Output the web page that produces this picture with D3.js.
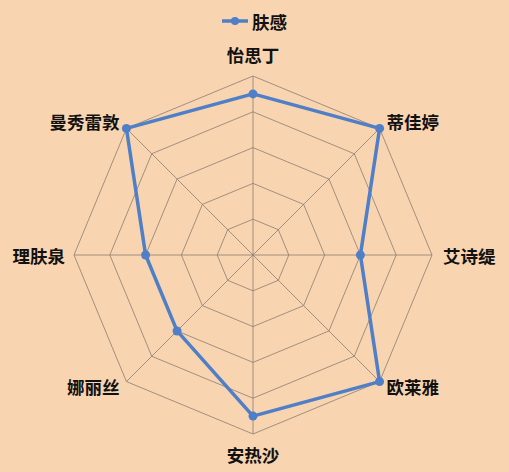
<!DOCTYPE html>
<html>
<head>
<meta charset="utf-8">
<script src="https://cdn.jsdelivr.net/npm/d3@7"></script>
<style>
  html, body { margin: 0; padding: 0; background: #f9d4b0; }
  svg { display: block; }
  text { font-family: "Noto Sans CJK SC", "Noto Sans", sans-serif; font-weight: bold; fill: #111; }
</style>
</head>
<body>
<svg id="chart"></svg>
<script>
// data
const brands = ['怡思丁', '蒂佳婷', '艾诗缇', '欧莱雅', '安热沙', '娜丽丝', '理肤泉', '曼秀雷敦'];
const skinFeel = [4.5, 5, 3, 5, 4.5, 3, 3, 5];
const seriesName = '肤感';
const levels = [1, 2, 3, 4, 5];

const width = 509, height = 472;
const cx = 253, cy = 255;
const radius = 179;
const lineColor = '#4f7fc6';

const svg = d3.select('#chart')
  .attr('width', width)
  .attr('height', height);

const rScale = d3.scaleLinear()
  .domain([0, d3.max(levels)])
  .range([0, radius]);

const angle = d3.scalePoint()
  .domain(brands)
  .range([0, 2 * Math.PI * (brands.length - 1) / brands.length]);

const chart = svg.append('g')
  .attr('transform', `translate(${cx},${cy})`);

const pt = (name, v) => {
  const a = angle(name);
  return [rScale(v) * Math.sin(a), -rScale(v) * Math.cos(a)];
};

// rings
chart.selectAll('.ring')
  .data(levels).enter()
  .append('polygon')
  .attr('class', 'ring')
  .attr('points', lv => brands.map(b => pt(b, lv).join(',')).join(' '))
  .attr('fill', 'none')
  .attr('stroke', '#8a7e72')
  .attr('stroke-width', 0.8);

// spokes
chart.selectAll('.spoke')
  .data(brands).enter()
  .append('line')
  .attr('class', 'spoke')
  .attr('x1', 0).attr('y1', 0)
  .attr('x2', b => pt(b, d3.max(levels))[0])
  .attr('y2', b => pt(b, d3.max(levels))[1])
  .attr('stroke', '#8a7e72')
  .attr('stroke-width', 0.8);

// axis labels
chart.selectAll('.label')
  .data(brands).enter()
  .append('text')
  .attr('class', 'label')
  .attr('font-size', 17.5)
  .attr('dominant-baseline', 'central')
  .attr('text-anchor', b => {
    const s = Math.sin(angle(b));
    return Math.abs(s) < 0.01 ? 'middle' : (s > 0 ? 'start' : 'end');
  })
  .attr('x', b => {
    const [x] = pt(b, d3.max(levels));
    const s = Math.sin(angle(b));
    return Math.abs(s) < 0.01 ? x : x + (s > 0 ? (Math.abs(s) > 0.99 ? 11 : 7) : (Math.abs(s) > 0.99 ? -9 : -7));
  })
  .attr('y', b => {
    const [, y] = pt(b, d3.max(levels));
    const c = Math.cos(angle(b));
    if (Math.abs(c) > 0.99) return y + (c > 0 ? -22 : 20);
    if (Math.abs(c) < 0.01) return y;
    return y + (c > 0 ? -7 : 5);
  })
  .text(b => b);

// series
const line = d3.line();
chart.append('path')
  .datum(brands.map((b, i) => pt(b, skinFeel[i])))
  .attr('d', d => line(d) + 'Z')
  .attr('fill', 'none')
  .attr('stroke', lineColor)
  .attr('stroke-width', 3.5)
  .attr('stroke-linejoin', 'round');

chart.selectAll('.dot')
  .data(brands).enter()
  .append('circle')
  .attr('class', 'dot')
  .attr('cx', (b, i) => pt(b, skinFeel[i])[0])
  .attr('cy', (b, i) => pt(b, skinFeel[i])[1])
  .attr('r', 4.5)
  .attr('fill', lineColor);

// legend
const legend = svg.append('g').attr('transform', 'translate(222,21)');
legend.append('line')
  .attr('x1', 0).attr('x2', 26)
  .attr('y1', 0).attr('y2', 0)
  .attr('stroke', lineColor)
  .attr('stroke-width', 3.5);
legend.append('circle')
  .attr('cx', 13).attr('cy', 0).attr('r', 4)
  .attr('fill', lineColor);
legend.append('text')
  .attr('x', 30).attr('y', 0)
  .attr('font-size', 17.5)
  .attr('dominant-baseline', 'central')
  .text(seriesName);
</script>
</body>
</html>
